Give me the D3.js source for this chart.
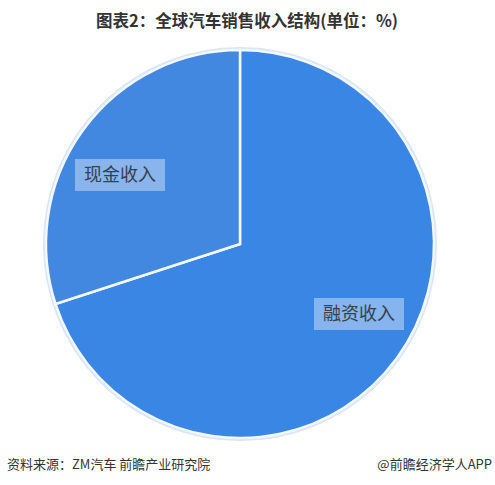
<!DOCTYPE html>
<html>
<head>
<meta charset="utf-8">
<script src="https://cdn.jsdelivr.net/npm/d3@7"></script>
<style>
  body { margin: 0; background: #fff; }
  text { font-family: "Noto Sans CJK SC", "Noto Sans", sans-serif; }
</style>
</head>
<body>
<div id="pie-income"></div>
<script>
// data
const categories = ["融资收入", "现金收入"];
const shares = [70, 30];
const sliceColors = ["#3a86e4", "#4288e1"];

const id_ref = "#pie-income";
const W = 495, H = 485,
    cx = 240, cy = 244,
    radius = 194;

const svg = d3.select(id_ref)
    .append("svg")
    .attr("width", W)
    .attr("height", H);

// Title
svg.append("text")
    .attr("x", 247)
    .attr("y", 27)
    .attr("text-anchor", "middle")
    .style("font-size", "16.5px")
    .style("font-weight", "bold")
    .style("fill", "#333")
    .text("图表2：全球汽车销售收入结构(单位：%)");

const color = d3.scaleOrdinal()
    .domain(categories)
    .range(sliceColors);

const pie = d3.pie()
    .sort(null)
    .value(d => d.value);

const arc = d3.arc()
    .innerRadius(0)
    .outerRadius(radius);

const data = categories.map((c, i) => ({ name: c, value: shares[i] }));

const g = svg.append("g")
    .attr("transform", `translate(${cx},${cy})`);

// faint halo round the pie
g.append("circle")
    .attr("r", radius + 1.5)
    .attr("fill", "none")
    .attr("stroke", "#d9e6f5")
    .attr("stroke-width", 3);

g.selectAll("path")
    .data(pie(data))
    .join("path")
    .attr("d", arc)
    .attr("fill", d => color(d.data.name))
    .attr("stroke", "#f4f8fd")
    .attr("stroke-width", 2.5)
    .attr("stroke-linejoin", "miter");

// label positions (centre of each box), relative to the pie centre
const labelPos = { "融资收入": [119, 70], "现金收入": [-120, -69] };

const labels = g.selectAll(".lbl")
    .data(pie(data))
    .join("g")
    .attr("class", "lbl")
    .attr("transform", d => `translate(${labelPos[d.data.name][0]},${labelPos[d.data.name][1]})`);

labels.append("rect")
    .attr("x", -45)
    .attr("y", -16)
    .attr("width", 90)
    .attr("height", 32)
    .attr("fill", "#ffffff")
    .attr("fill-opacity", 0.38);

labels.append("text")
    .attr("text-anchor", "middle")
    .attr("dy", "0.36em")
    .style("font-size", "18px")
    .style("fill", "#3a3f4a")
    .text(d => d.data.name);

// footer
svg.append("text")
    .attr("x", 7)
    .attr("y", 469)
    .style("font-size", "13px")
    .style("fill", "#333")
    .text("资料来源：ZM汽车 前瞻产业研究院");

svg.append("text")
    .attr("x", 492)
    .attr("y", 469)
    .attr("text-anchor", "end")
    .style("font-size", "13px")
    .style("fill", "#333")
    .text("@前瞻经济学人APP");
</script>
</body>
</html>
